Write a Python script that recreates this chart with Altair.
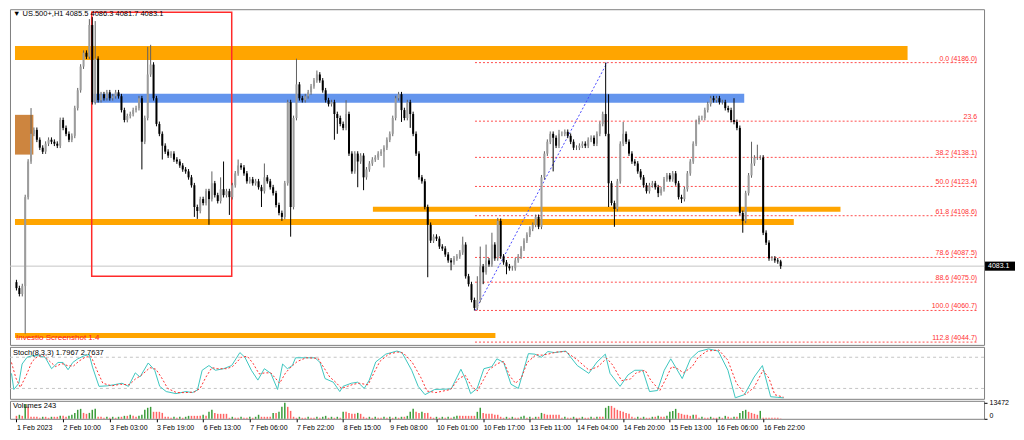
import json
import altair as alt
import pandas as pd

# ---------------- data ----------------
closes = [
    4072, 4069, 4073, 4118, 4136, 4150, 4152, 4147, 4143, 4141,
    4145, 4147, 4146, 4145, 4144, 4157, 4153, 4150, 4147, 4149,
    4163, 4172, 4184, 4191, 4189, 4205, 4166, 4188, 4167, 4170,
    4168, 4171, 4168, 4169, 4171, 4169, 4162, 4157, 4159, 4160,
    4162, 4163, 4168, 4146, 4158, 4180, 4185, 4168, 4155, 4150,
    4144, 4141, 4139, 4140, 4137, 4136, 4134, 4132, 4131, 4128,
    4124, 4113, 4111, 4117, 4115, 4121, 4117, 4125, 4119, 4116,
    4122, 4119, 4121, 4118, 4124, 4130, 4134, 4133, 4130, 4126,
    4127, 4125, 4126, 4123, 4121, 4128, 4126, 4123, 4120, 4114,
    4110, 4108, 4125, 4166, 4113, 4158, 4175, 4168, 4167, 4169,
    4171, 4174, 4177, 4180, 4177, 4172, 4167, 4165, 4166, 4160,
    4158, 4155, 4153, 4160, 4140, 4131, 4140, 4136, 4139, 4128,
    4132, 4135, 4137, 4138, 4140, 4141, 4143, 4147, 4150, 4158,
    4168, 4170, 4162, 4158, 4166, 4160, 4150, 4140, 4128, 4126,
    4113, 4104, 4096, 4098, 4097, 4093, 4092, 4089, 4086, 4085,
    4087, 4088, 4090, 4094, 4078, 4074, 4066, 4062, 4066, 4083,
    4080, 4086, 4084, 4094, 4087, 4106, 4088, 4085, 4083, 4082,
    4082, 4086, 4088, 4092, 4096, 4099, 4102, 4104, 4108, 4103,
    4128, 4140, 4146, 4150, 4148, 4144, 4150, 4150, 4151, 4149,
    4146, 4143, 4143, 4144, 4145, 4144, 4147, 4148, 4145, 4150,
    4155, 4160, 4150, 4125, 4115, 4112, 4126, 4145, 4150, 4146,
    4140, 4136, 4135, 4131, 4128, 4124, 4121, 4124, 4125, 4123,
    4120, 4122, 4127, 4129, 4127, 4130, 4125, 4118, 4117, 4122,
    4130, 4136, 4145, 4156, 4158, 4158, 4162, 4165, 4168, 4167,
    4168, 4166, 4166, 4163, 4162, 4157, 4156, 4153, 4110, 4106,
    4120, 4129, 4135, 4138, 4138, 4138, 4100, 4095, 4087, 4087,
    4086, 4085.5, 4083.1,
]
first_open = 4075.0
spike_high = {5: 4163, 25: 4208, 26: 4209, 27: 4207, 45: 4194, 46: 4195,
              67: 4131, 70: 4128, 71: 4136, 76: 4137, 85: 4135, 96: 4188,
              103: 4182, 113: 4167, 153: 4098, 158: 4078, 159: 4093,
              161: 4094, 163: 4100, 165: 4107.5, 186: 4152, 202: 4186,
              203: 4170, 208: 4156, 246: 4168, 252: 4146, 254: 4144.5,
              262: 4086.3}
spike_low = {3: 4049, 43: 4132, 50: 4137, 61: 4108, 62: 4107, 66: 4104,
             73: 4109, 84: 4113, 91: 4106, 94: 4098, 109: 4147, 110: 4150,
             117: 4123, 119: 4121.5, 126: 4133, 132: 4156, 135: 4153,
             141: 4077.5, 149: 4081, 157: 4060.7, 160: 4074, 168: 4079,
             184: 4131, 203: 4113, 205: 4103, 220: 4118, 228: 4115,
             249: 4100, 262: 4081.7}
WICK = 1.2

volumes = [
    2500, 3400, 2500, 12600, 10100, 1700, 1700, 1700, 850, 1700,
    1700, 850, 1700, 1700, 1700, 2500, 2500, 1700, 2500, 3400,
    5000, 7600, 8400, 5000, 4200, 5000, 7600, 8400, 1700, 1700,
    850, 1700, 850, 1700, 850, 1700, 1700, 2500, 2500, 3400,
    2500, 1700, 2500, 3400, 7600, 9300, 10100, 5900, 5900, 5900,
    5000, 1700, 1700, 850, 1700, 850, 1700, 850, 1700, 2500,
    2500, 2500, 2500, 2500, 3400, 2500, 5900, 7600, 5000, 4200,
    4200, 4200, 4200, 850, 1700, 850, 850, 1700, 850, 850,
    1700, 850, 1700, 3400, 1700, 1700, 1700, 1700, 5000, 5000,
    5900, 10100, 13472, 10100, 6700, 1700, 850, 1700, 850, 850,
    1700, 850, 850, 1700, 850, 1700, 2500, 850, 1700, 850,
    1700, 850, 5900, 5900, 5000, 4200, 4200, 5000, 4200, 1700,
    850, 1700, 850, 1700, 850, 850, 1700, 850, 1700, 850,
    1700, 850, 1700, 1700, 2500, 5900, 8400, 5900, 5000, 5900,
    5000, 5000, 1700, 850, 1700, 850, 1700, 850, 1700, 850,
    1700, 2500, 2500, 2500, 2500, 2500, 2500, 2500, 5900, 9300,
    5000, 4200, 4200, 4200, 3400, 3400, 1700, 850, 1700, 850,
    1700, 850, 850, 1700, 2500, 850, 1700, 850, 1700, 1700,
    5000, 4200, 3400, 3400, 3400, 3400, 3400, 850, 1700, 850,
    850, 1700, 850, 850, 1700, 850, 850, 1700, 850, 1700,
    1700, 1700, 9300, 10900, 10900, 9300, 7600, 6700, 5900, 5000,
    4200, 1700, 850, 1700, 850, 1700, 850, 850, 1700, 1700,
    2500, 1700, 1700, 2500, 5900, 6700, 8400, 5000, 4200, 3400,
    3400, 2500, 3400, 3400, 850, 1700, 850, 850, 1700, 850,
    850, 1700, 850, 2500, 1700, 850, 1700, 1700, 5000, 6700,
    7600, 5900, 5000, 4200, 3400, 6700, 850, 850, 850, 850,
    850, 850, 243,
]

k_idx = [0, 0.8, 2.5, 3.6, 5.3, 7, 9.2, 11.4, 13.6, 15.8, 17.5, 19.2, 20.8, 22.5,
         24.7, 26.4, 27.5, 29.7, 32.5, 34.7, 37.5, 39.7, 42, 43.6, 46.4, 48.6, 50.3,
         52.5, 55.8, 59.2, 61.4, 63.1, 64.7, 67, 69.2, 72, 74.7, 77.5, 79.2, 81.4,
         83.6, 85.8, 88, 90.3, 92, 93.6, 95.3, 96.4, 99.2, 103, 104.7, 106.4, 109.2,
         111.4, 112.5, 115.3, 117.5, 119.7, 121.4, 123.6, 127, 130.8, 132.5, 135.8,
         138, 140.3, 143.6, 149.2, 152.5, 154.2, 155.8, 158, 160.3, 163, 164.7, 167,
         169.5, 172, 175.4, 177.6, 179.8, 182, 184.2, 188.1, 192, 195.9, 198.7, 201.5,
         203.1, 206.5, 209.2, 211.5, 214.2, 216.5, 219.2, 221.5, 223.7, 227.6, 230.4,
         233.1, 236.5, 239.8, 243.1, 245.6, 248.7, 252, 254.8, 257.6, 259.8, 262]
k_val = [49, 18, 30, 67, 80, 83, 83, 80, 58, 70, 70, 56, 70, 77, 83, 85, 61, 24, 25, 27,
         30, 24, 50, 42, 69, 55, 24, 14, 10, 14, 12, 17, 55, 64, 55, 58, 64, 89, 80, 55,
         36, 58, 49, 18, 67, 58, 64, 79, 79, 79, 70, 39, 32, 14, 24, 30, 32, 20, 36, 71,
         86, 92, 89, 55, 24, 8, 18, 19, 57, 36, 10, 20, 58, 62, 77, 70, 28, 20, 87, 86,
         80, 91, 89, 92, 64, 49, 71, 86, 49, 24, 46, 55, 55, 14, 16, 55, 77, 39, 77, 91,
         96, 92, 55, 2, 8, 42, 64, 4, 3, 1.8]
d_idx = [0, 1.5, 3, 5, 7, 9, 11, 13, 15, 17, 19, 21, 23, 25, 27, 29, 31, 34, 37, 40,
         42, 44, 47, 49, 51, 53, 56, 59, 62, 64, 66, 68, 70, 73, 75, 78, 80, 82, 84, 86,
         88, 91, 93, 95, 97, 100, 104, 106, 108, 110, 112, 114, 116, 118, 121, 123, 125,
         128, 131, 133, 136, 139, 141, 144, 149, 152, 154, 156, 158, 160, 162, 165, 167,
         169, 171, 173, 175, 178, 180, 182, 185, 188, 192, 196, 199, 202, 204, 207, 210,
         212, 215, 217, 220, 222, 224, 226, 228, 231, 233, 236, 240, 243, 246, 249, 252,
         255, 257, 259, 262]
d_val = [70, 40, 22, 45, 72, 82, 83, 72, 62, 68, 64, 63, 73, 80, 82, 55, 30, 25, 28, 27,
         38, 45, 60, 57, 40, 20, 12, 12, 13, 20, 42, 60, 58, 58, 62, 80, 82, 68, 48, 50,
         50, 30, 50, 62, 72, 79, 78, 60, 42, 32, 20, 24, 28, 30, 27, 50, 72, 86, 90, 88,
         70, 40, 15, 12, 18, 40, 45, 25, 15, 35, 56, 68, 72, 45, 30, 40, 70, 85, 84, 86,
         90, 91, 75, 55, 62, 78, 65, 35, 38, 50, 55, 35, 16, 38, 62, 58, 50, 62, 80, 92,
         94, 75, 30, 8, 22, 55, 40, 8, 3]

time_labels = ["1 Feb 2023", "2 Feb 10:00", "3 Feb 03:00", "3 Feb 19:00", "6 Feb 13:00",
               "7 Feb 06:00", "7 Feb 22:00", "8 Feb 15:00", "9 Feb 08:00", "10 Feb 01:00",
               "10 Feb 17:00", "13 Feb 11:00", "14 Feb 04:00", "14 Feb 20:00",
               "15 Feb 13:00", "16 Feb 06:00", "16 Feb 22:00"]
time_ticks = [16 * k for k in range(len(time_labels))]
price_ticks = [4045.0, 4057.5, 4070.0, 4095.0, 4107.5, 4120.0, 4132.5, 4145.0,
               4157.5, 4170.0, 4182.5, 4195.0, 4207.5]

fib_labels = ["0.0 (4186.0)", "23.6", "38.2 (4138.1)", "50.0 (4123.4)", "61.8 (4108.6)",
              "78.6 (4087.5)", "88.6 (4075.0)", "100.0 (4060.7)", "112.8 (4044.7)"]
fib_prices = [4186.0, 4156.4, 4138.1, 4123.4, 4108.6, 4087.5, 4075.0, 4060.7, 4044.7]
fib_start = 157.2

band_x1 = [-0.5, 26.5, -0.5, -0.5, 122.2, -0.5]
band_x2 = [305.5, 249.5, 5.8, 266.5, 282.5, 164.2]
band_top = [4194.4, 4170.2, 4159.6, 4107.0, 4113.1, 4049.3]
band_bot = [4187.3, 4165.7, 4139.5, 4103.9, 4110.6, 4046.8]
band_color = ["#ffa500", "#6495ed", "#cd853f", "#ffa500", "#ffa500", "#ffa500"]

box_x = [25.8, 73.8]
box_p = [4211.5, 4078.0]
trend_i = [157.3, 202.5]
trend_p = [4060.7, 4186.0]
last_price = 4083.1
header_text = "\u25bc US.500+,H1  4085.5 4086.3 4081.7 4083.1"
stoch_text = "Stoch(8,3,3) 1.7967 2.7637"
vol_text = "Volumes 243"

# ---------------- tables ----------------
opens = [first_open] + closes[:-1]
rows = []
for i, c in enumerate(closes):
    o = opens[i]
    up = c >= o
    rows.append(dict(i=i, open=o, close=c,
                     high=spike_high.get(i, max(o, c) + WICK),
                     low=spike_low.get(i, min(o, c) - WICK),
                     wcol="#606060" if up else "#000000",
                     bcol="#9c9c9c" if up else "#000000"))
candles = pd.DataFrame(rows)
vol_df = pd.DataFrame({"i": list(range(len(volumes))), "v": volumes})
vol_df["vcol"] = ["#3a9c3a" if k > 0 and volumes[k] > volumes[k - 1] else "#ff6464"
                  for k in range(len(volumes))]
bands = pd.DataFrame({"x1": band_x1, "x2": band_x2, "top": band_top,
                      "bot": band_bot, "color": band_color})
fibs = pd.DataFrame({"x1": [fib_start] * len(fib_prices), "x2": [329.7] * len(fib_prices),
                     "p": fib_prices, "label": fib_labels})
box = pd.DataFrame({"x1": [box_x[0]], "x2": [box_x[1]], "top": [box_p[0]], "bot": [box_p[1]]})
trend = pd.DataFrame({"i": trend_i, "p": trend_p})
kdf = pd.DataFrame({"i": k_idx[:len(k_val)], "v": k_val[:len(k_idx)]})
ddf = pd.DataFrame({"i": d_idx[:len(d_val)], "v": d_val[:len(d_idx)]})

# ---------------- chart ----------------
FONT = "Liberation Sans"
W = 975
H_MAIN, H_STOCH, H_VOL = 336, 52, 18
xsc = alt.Scale(domain=[-0.5, 330.0], nice=False, zero=False)
psc = alt.Scale(domain=[4043.3, 4213.0], nice=False, zero=False)


def X(f):
    return alt.X(f, type="quantitative", scale=xsc, axis=None)


def P(f, axis=None):
    return alt.Y(f, type="quantitative", scale=psc, axis=axis)


price_axis = alt.Axis(orient="right", values=price_ticks, format=".1f", title=None,
                      tickSize=3, labelPadding=2, labelOverlap=False)

cur_rule = alt.Chart(pd.DataFrame({"p": [last_price]})).mark_rule(
    color="#c6c6c6", strokeWidth=1).encode(y=P("p", price_axis))
band_layer = alt.Chart(bands).mark_rect().encode(
    x=X("x1"), x2="x2", y=P("top"), y2="bot",
    color=alt.Color("color:N", scale=None))
box_layer = alt.Chart(box).mark_rect(fillOpacity=0, stroke="#ff2a2a", strokeWidth=1.5).encode(
    x=X("x1"), x2="x2", y=P("top"), y2="bot")
fib_rules = alt.Chart(fibs).mark_rule(strokeDash=[2, 2], color="#ff4d4d", strokeWidth=1).encode(
    x=X("x1"), x2="x2", y=P("p"))
fib_text = alt.Chart(fibs).mark_text(align="right", baseline="bottom", dx=-1, dy=-1,
                                     fontSize=7, font=FONT, color="#ff3030").encode(
    x=X("x2"), y=P("p"), text="label:N")
trend_layer = alt.Chart(trend).mark_line(strokeDash=[2, 2], color="#4848ff", strokeWidth=1).encode(
    x=X("i"), y=P("p"))
wicks = alt.Chart(candles).mark_rule(strokeWidth=1).encode(
    x=X("i"), y=P("low"), y2="high", color=alt.Color("wcol:N", scale=None))
bodies = alt.Chart(candles).mark_bar(size=2).encode(
    x=X("i"), y=P("open"), y2="close", color=alt.Color("bcol:N", scale=None))
header = alt.Chart(pd.DataFrame({"t": [header_text]})).mark_text(
    align="left", baseline="top", fontSize=7.5, font=FONT, color="#000").encode(
    x=alt.value(3), y=alt.value(1), text="t:N")
investio = alt.Chart(pd.DataFrame({"t": ["Investio Screenshot 1.4"]})).mark_text(
    align="left", baseline="middle", fontSize=8, font=FONT, color="#ff2020").encode(
    x=alt.value(6), y=alt.value(H_MAIN - 7), text="t:N")
tag_df = pd.DataFrame({"p": [last_price], "a": [last_price + 2.3], "b": [last_price - 2.3],
                       "t": [f"{last_price:.1f}"]})
tag_rect = alt.Chart(tag_df).mark_rect(color="#000").encode(
    x=alt.value(W + 1), x2=alt.value(W + 31), y=P("a"), y2="b")
tag_text = alt.Chart(tag_df).mark_text(align="left", baseline="middle", fontSize=7,
                                       font=FONT, color="#fff").encode(
    x=alt.value(W + 4), y=P("p"), text="t:N")

main = alt.layer(cur_rule, band_layer, box_layer, fib_rules, trend_layer, fib_text,
                 wicks, bodies, header, investio, tag_rect, tag_text).properties(
    width=W, height=H_MAIN)

ssc = alt.Scale(domain=[0, 100], nice=False, zero=False)
stoch_axis = alt.Axis(orient="right", values=[0, 20, 80, 100], title=None, tickSize=3,
                      labelPadding=2, labelFlush=True, labelOverlap=False)
lv = alt.Chart(pd.DataFrame({"v": [20, 80]})).mark_rule(
    strokeDash=[3, 3], color="#c4c4c4").encode(y=alt.Y("v:Q", scale=ssc, axis=stoch_axis))
kline = alt.Chart(kdf).mark_line(color="#3ec6c0", strokeWidth=1).encode(
    x=X("i"), y=alt.Y("v:Q", scale=ssc, axis=None))
dline = alt.Chart(ddf).mark_line(color="#ff3030", strokeWidth=1, strokeDash=[2, 2]).encode(
    x=X("i"), y=alt.Y("v:Q", scale=ssc, axis=None))
stitle = alt.Chart(pd.DataFrame({"t": [stoch_text]})).mark_text(
    align="left", baseline="top", fontSize=7.5, font=FONT, color="#000").encode(
    x=alt.value(3), y=alt.value(2), text="t:N")
stoch = alt.layer(lv, kline, dline, stitle).properties(width=W, height=H_STOCH)

vsc = alt.Scale(domain=[0, 15200], nice=False, zero=True)
vol_axis = alt.Axis(orient="right", values=[0, 13472], format="d", title=None, tickSize=3,
                    labelPadding=2, labelFlush=True, labelOverlap=False)
x_axis = alt.Axis(values=time_ticks, labelExpr=f"{json.dumps(time_labels)}[round(datum.value/16)]",
                  labelAlign="left", labelBaseline="top", labelPadding=2, tickSize=3,
                  labelOverlap=False, labelFlush=False, title=None)
vbars = alt.Chart(vol_df).mark_bar(size=1.5).encode(
    x=alt.X("i:Q", scale=xsc, axis=x_axis),
    y=alt.Y("v:Q", scale=vsc, axis=vol_axis),
    color=alt.Color("vcol:N", scale=None))
vtitle = alt.Chart(pd.DataFrame({"t": [vol_text]})).mark_text(
    align="left", baseline="top", fontSize=7.5, font=FONT, color="#000").encode(
    x=alt.value(3), y=alt.value(1), text="t:N")
vol = alt.layer(vbars, vtitle).properties(width=W, height=H_VOL)

chart = alt.vconcat(main, stoch, vol, spacing=2, bounds="flush").properties(
    padding={"left": 0, "top": 0, "right": 0, "bottom": 0}, background="white"
).configure_view(stroke="#7f7f7f", strokeWidth=1).configure_axis(
    labelFont=FONT, labelFontSize=7, labelColor="#000", tickColor="#000",
    domain=False, grid=False)

chart.save("out.html", embed_options={"renderer": "svg", "actions": False})
